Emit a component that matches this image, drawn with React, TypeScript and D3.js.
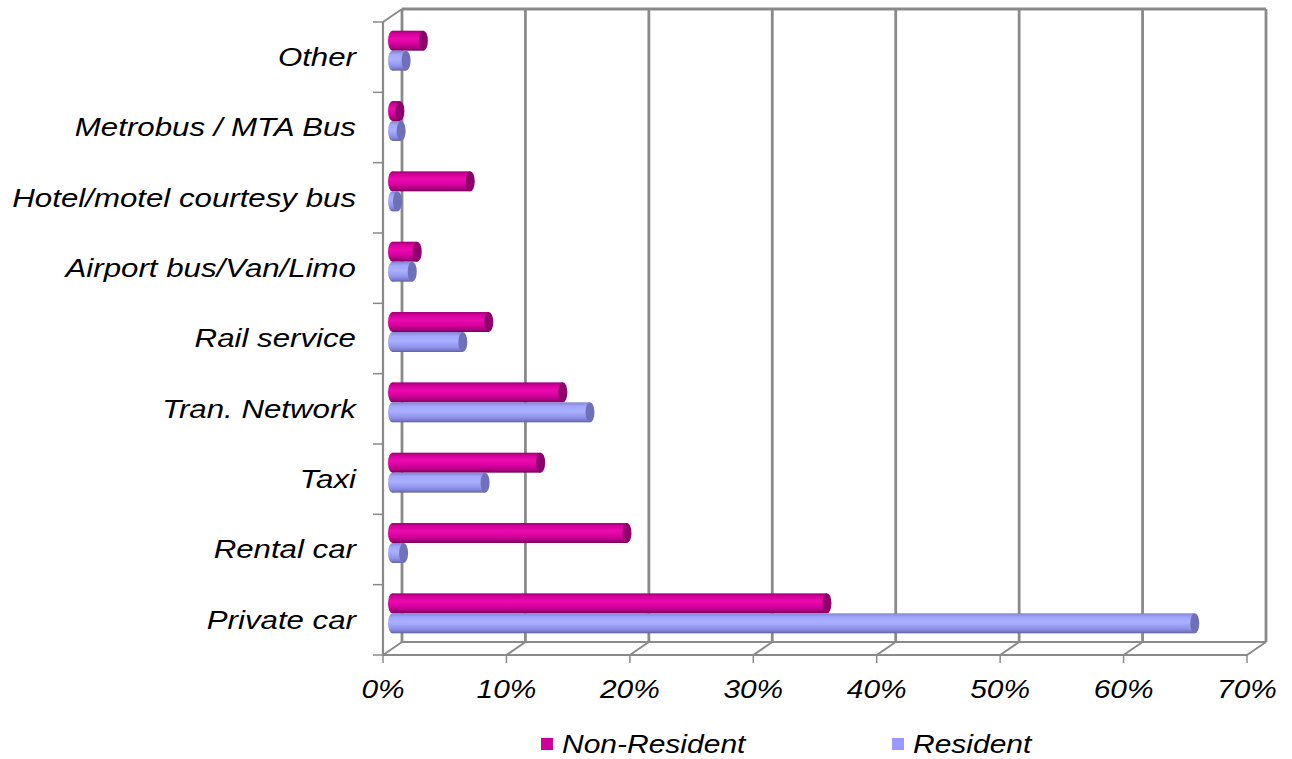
import * as React from 'react';
import * as d3 from 'd3';

const categories = [
  'Other',
  'Metrobus / MTA Bus',
  'Hotel/motel courtesy bus',
  'Airport bus/Van/Limo',
  'Rail service',
  'Tran. Network',
  'Taxi',
  'Rental car',
  'Private car',
];
const nonResident = [2.5, 0.6, 6.3, 2.0, 7.8, 13.8, 12.0, 19.0, 35.2];
const resident = [1.1, 0.7, 0.4, 1.6, 5.7, 16.0, 7.5, 0.9, 65.0];
const xTicks = [0, 10, 20, 30, 40, 50, 60, 70];
const seriesNames = ['Non-Resident', 'Resident'];

const W = 1292;
const H = 759;
const DX = 19; // depth offset of back wall
const DY = -13;
const GRID = '#8a8a8a';
const FONT = '"Liberation Sans", Arial, sans-serif';

export default function App() {
  const x = d3.scaleLinear().domain([0, 70]).range([383, 1247]);
  const y = d3.scaleBand<string>().domain(categories).range([22, 655]).paddingInner(0);
  const inner = d3.scaleBand<string>().domain(seriesNames).range([0, y.bandwidth()]).paddingOuter(0.76);
  const bh = inner.bandwidth();
  const rx = 4.5;
  const midX = DX / 2;
  const midY = DY / 2;
  const [x0, x1] = x.range();
  const [yTop, yBot] = [22, 655];

  const bars = categories.flatMap((c, i) => [
    { c, s: 'Non-Resident', v: nonResident[i], key: 'nr' },
    { c, s: 'Resident', v: resident[i], key: 'r' },
  ]);

  return (
    <svg width={W} height={H} style={{ position: 'absolute', left: 0, top: 0, background: '#fff' }}>
      <defs>
        <linearGradient id="g-nr" x1="0" y1="0" x2="0" y2="1">
          <stop offset="0" stopColor="#9c0076" />
          <stop offset="0.15" stopColor="#d4009a" />
          <stop offset="0.4" stopColor="#ec0aae" />
          <stop offset="0.65" stopColor="#d800a0" />
          <stop offset="0.88" stopColor="#a8007e" />
          <stop offset="1" stopColor="#74005a" />
        </linearGradient>
        <linearGradient id="g-r" x1="0" y1="0" x2="0" y2="1">
          <stop offset="0" stopColor="#8284d0" />
          <stop offset="0.2" stopColor="#a2a6ff" />
          <stop offset="0.45" stopColor="#aab0ff" />
          <stop offset="0.75" stopColor="#9094ec" />
          <stop offset="0.9" stopColor="#7a7ccc" />
          <stop offset="1" stopColor="#5e6098" />
        </linearGradient>
      </defs>

      {/* back wall grid */}
      {xTicks.map(t => (
        <line key={'bw' + t} x1={x(t) + DX} x2={x(t) + DX} y1={yTop + DY} y2={yBot + DY}
          stroke={GRID} strokeWidth={2.8} />
      ))}
      <line x1={x0 + DX} x2={x1 + DX} y1={yTop + DY} y2={yTop + DY} stroke={GRID} strokeWidth={2.8} />
      <line x1={x0 + DX} x2={x1 + DX} y1={yBot + DY} y2={yBot + DY} stroke={GRID} strokeWidth={2} />

      {/* floor diagonals */}
      {xTicks.map(t => (
        <line key={'fd' + t} x1={x(t)} x2={x(t) + DX} y1={yBot} y2={yBot + DY} stroke={GRID} strokeWidth={2} />
      ))}
      {/* left wall */}
      <line x1={x0} x2={x0 + DX} y1={yTop} y2={yTop + DY} stroke={GRID} strokeWidth={2} />
      <line x1={x0} x2={x0} y1={yTop} y2={yBot} stroke={GRID} strokeWidth={2.2} />
      <line x1={x0} x2={x1} y1={yBot} y2={yBot} stroke={GRID} strokeWidth={2.2} />

      {/* axis ticks */}
      {y.domain().map(c => (
        <line key={'yt' + c} x1={x0 - 10} x2={x0} y1={y(c)!} y2={y(c)!} stroke={GRID} strokeWidth={1.5} />
      ))}
      <line x1={x0 - 10} x2={x0} y1={yBot} y2={yBot} stroke={GRID} strokeWidth={1.5} />
      {xTicks.map(t => (
        <line key={'xt' + t} x1={x(t)} x2={x(t)} y1={yBot} y2={yBot + 8} stroke={GRID} strokeWidth={1.5} />
      ))}

      {/* cylinders */}
      {bars.map(b => {
        const top = y(b.c)! + inner(b.s)! + midY;
        const cy = top + bh / 2;
        const bx0 = x(0) + midX;
        const bx1 = x(b.v) + midX;
        const grad = b.key === 'nr' ? 'url(#g-nr)' : 'url(#g-r)';
        const cap = b.key === 'nr' ? '#8e006a' : '#6e70b8';
        return (
          <g key={b.c + b.key}>
            <ellipse cx={bx0} cy={cy} rx={rx} ry={bh / 2} fill={grad} />
            <rect x={bx0} y={top} width={Math.max(0, bx1 - bx0)} height={bh} fill={grad} />
            <ellipse cx={bx1} cy={cy} rx={rx} ry={bh / 2} fill={cap} />
          </g>
        );
      })}

      {/* category labels */}
      {categories.map(c => (
        <text key={'cl' + c} transform={`translate(356,${y(c)! + y.bandwidth() / 2}) scale(1.25,1)`}
          textAnchor="end" dominantBaseline="central" fontFamily={FONT} fontStyle="italic"
          fontSize={25} fill="#000">{c}</text>
      ))}

      {/* x tick labels */}
      {xTicks.map(t => (
        <text key={'xl' + t} transform={`translate(${x(t)},${698}) scale(1.15,1)`} textAnchor="middle"
          fontFamily={FONT} fontStyle="italic" fontSize={26} fill="#000">{`${t}%`}</text>
      ))}

      {/* legend */}
      {seriesNames.map((s, i) => {
        const lx = [541, 892][i];
        return (
          <g key={'lg' + s}>
            <rect x={lx} y={738} width={12} height={12} fill={i === 0 ? '#cc0099' : '#9999ff'} />
            <text transform={`translate(${lx + 21},${753}) scale(1.2,1)`} fontFamily={FONT}
              fontStyle="italic" fontSize={25} fill="#000">{s}</text>
          </g>
        );
      })}
    </svg>
  );
}
